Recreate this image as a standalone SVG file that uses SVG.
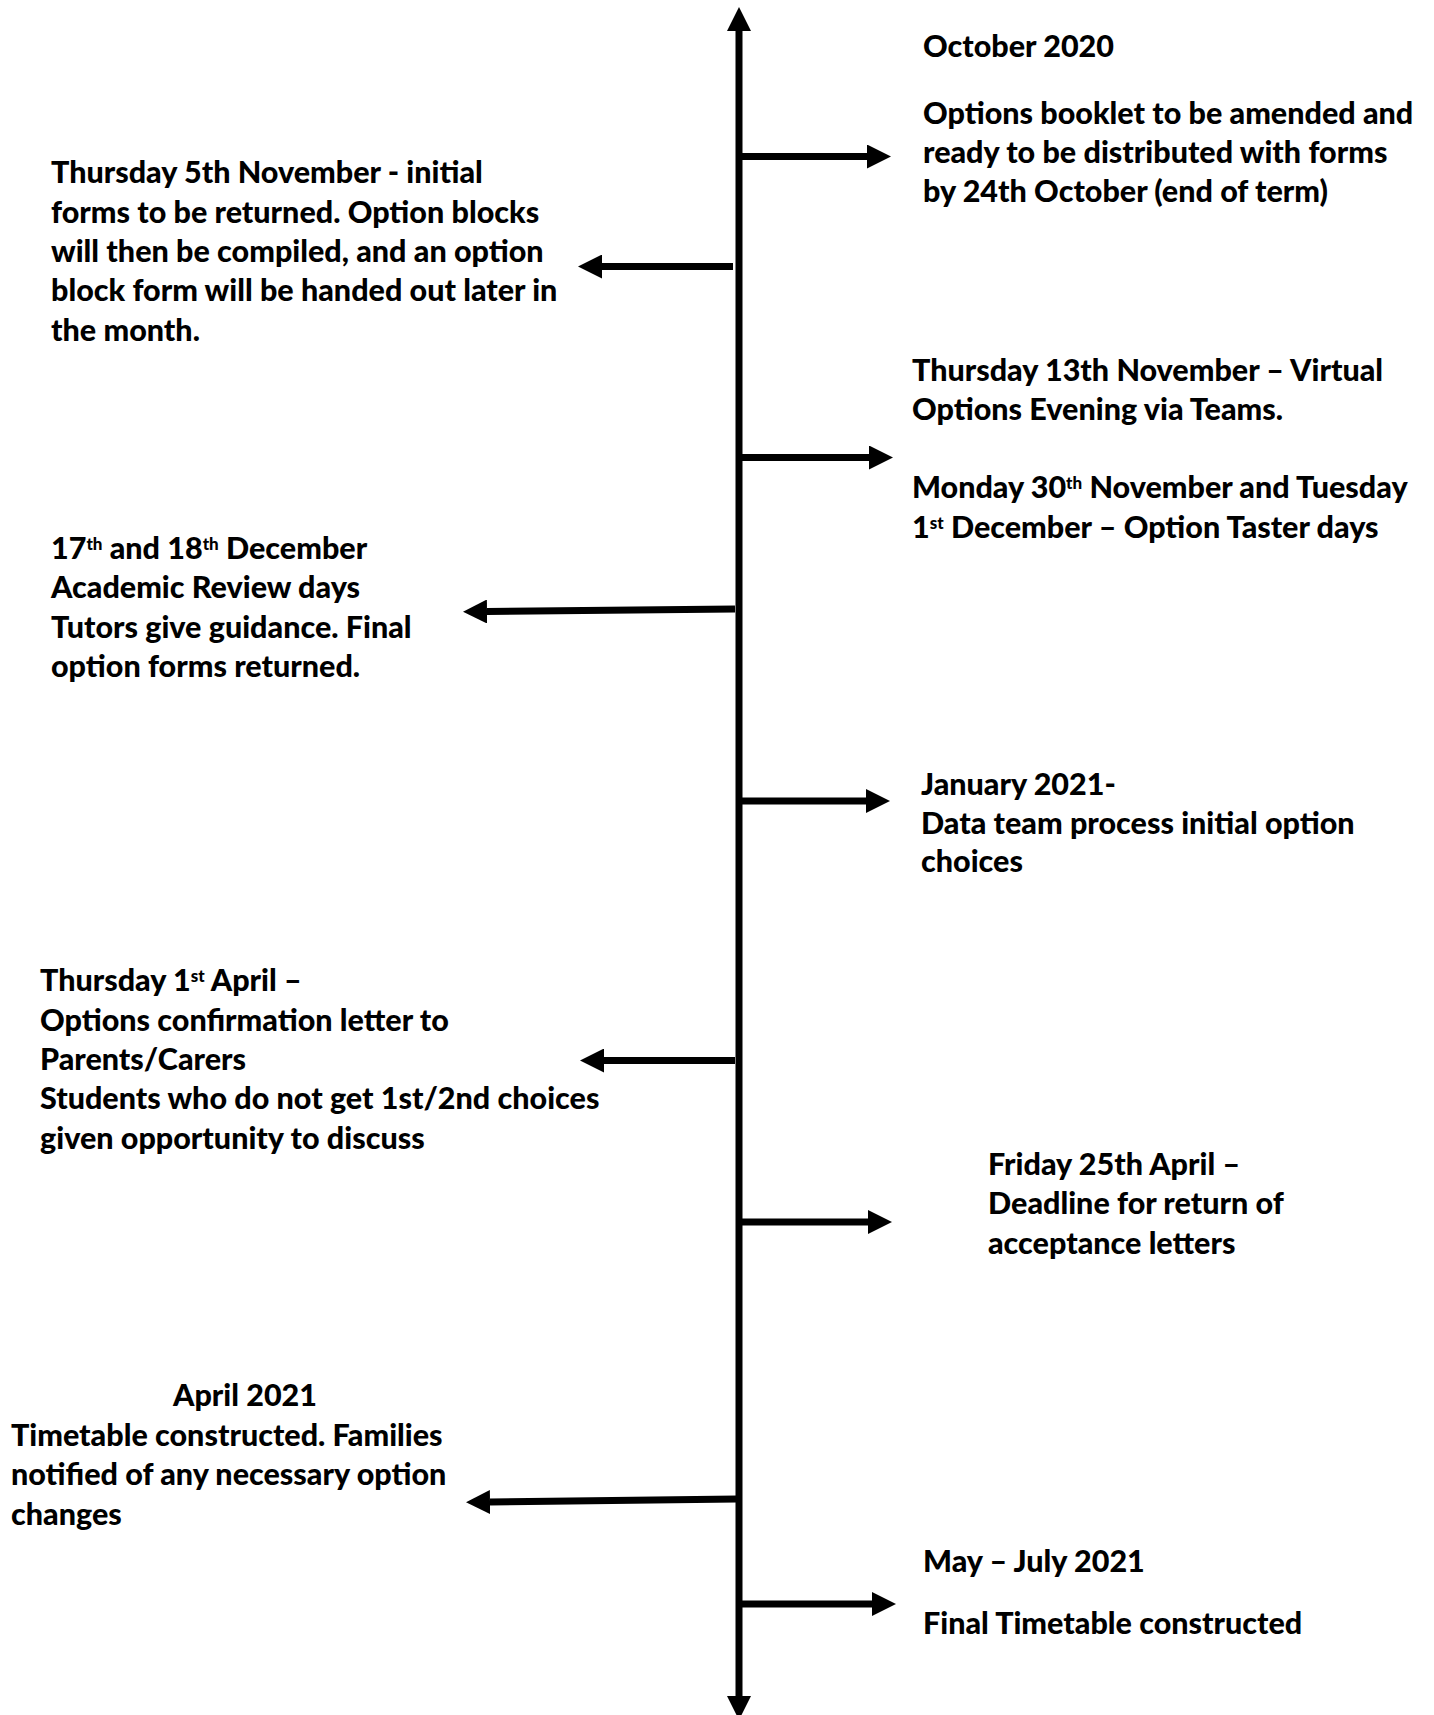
<svg xmlns="http://www.w3.org/2000/svg" width="1434" height="1715" viewBox="0 0 1434 1715">
<style>
text{font-family:Lato,"Open Sans","Liberation Sans",sans-serif;font-weight:900;font-size:30.5px;fill:#000}
.ln{stroke:#000;stroke-width:7;fill:none;marker-end:url(#ah)}
.sup{font-size:17px}
</style>
<defs>
<marker id="ah" viewBox="0 0 24 24" markerWidth="24" markerHeight="24" refX="0" refY="12" orient="auto-start-reverse" markerUnits="userSpaceOnUse">
<path d="M0,0 L24,12 L0,24 Z" fill="#000"/>
</marker>
</defs>
<rect width="1434" height="1715" fill="#fff"/>
<g id="connectors">
<path class="ln" d="M739,1696 L739,31" style="marker-start:url(#ah)"/>
<path class="ln" d="M742,156.5 L867,156.5"/>
<path class="ln" d="M742,457.5 L869,457.5"/>
<path class="ln" d="M742,801 L866,801"/>
<path class="ln" d="M742,1222 L868,1222"/>
<path class="ln" d="M742,1604 L872,1604"/>
<path class="ln" d="M733,266.5 L602,266.5"/>
<path class="ln" d="M735,609 L487,611.5"/>
<path class="ln" d="M735,1060.5 L604,1060.5"/>
<path class="ln" d="M737,1499 L490,1502"/>
</g>
<g id="oct2020">
<text x="923" y="57">October 2020</text>
<text x="923" y="124">Options booklet to be amended and</text>
<text x="923" y="163">ready to be distributed with forms</text>
<text x="923" y="202">by 24th October (end of term)</text>
</g>
<g id="nov5">
<text x="51" y="183">Thursday 5th November - initial</text>
<text x="51" y="223">forms to be returned. Option blocks</text>
<text x="51" y="262">will then be compiled, and an option</text>
<text x="51" y="301">block form will be handed out later in</text>
<text x="51" y="341">the month.</text>
</g>
<g id="nov13">
<text x="912" y="381">Thursday 13th November – Virtual</text>
<text x="912" y="420">Options Evening via Teams.</text>
<text x="912" y="498">Monday 30<tspan class="sup" dy="-9">th</tspan><tspan dy="9"> November and Tuesday</tspan></text>
<text x="912" y="538">1<tspan class="sup" dy="-9">st</tspan><tspan dy="9"> December – Option Taster days</tspan></text>
</g>
<g id="dec17">
<text x="51" y="559">17<tspan class="sup" dy="-9">th</tspan><tspan dy="9"> and 18</tspan><tspan class="sup" dy="-9">th</tspan><tspan dy="9"> December</tspan></text>
<text x="51" y="598">Academic Review days</text>
<text x="51" y="638">Tutors give guidance. Final</text>
<text x="51" y="677">option forms returned.</text>
</g>
<g id="jan2021">
<text x="921" y="795">January 2021-</text>
<text x="921" y="834">Data team process initial option</text>
<text x="921" y="872">choices</text>
</g>
<g id="apr1">
<text x="40" y="991">Thursday 1<tspan class="sup" dy="-9">st</tspan><tspan dy="9"> April –</tspan></text>
<text x="40" y="1031">Options confirmation letter to</text>
<text x="40" y="1070">Parents/Carers</text>
<text x="40" y="1109">Students who do not get 1st/2nd choices</text>
<text x="40" y="1149">given opportunity to discuss</text>
</g>
<g id="apr25">
<text x="988" y="1175">Friday 25th April –</text>
<text x="988" y="1214">Deadline for return of</text>
<text x="988" y="1254">acceptance letters</text>
</g>
<g id="apr2021">
<text x="173" y="1406">April 2021</text>
<text x="11" y="1446">Timetable constructed. Families</text>
<text x="11" y="1485">notified of any necessary option</text>
<text x="11" y="1525">changes</text>
</g>
<g id="mayjul">
<text x="923" y="1572">May – July 2021</text>
<text x="923" y="1634">Final Timetable constructed</text>
</g>
</svg>
